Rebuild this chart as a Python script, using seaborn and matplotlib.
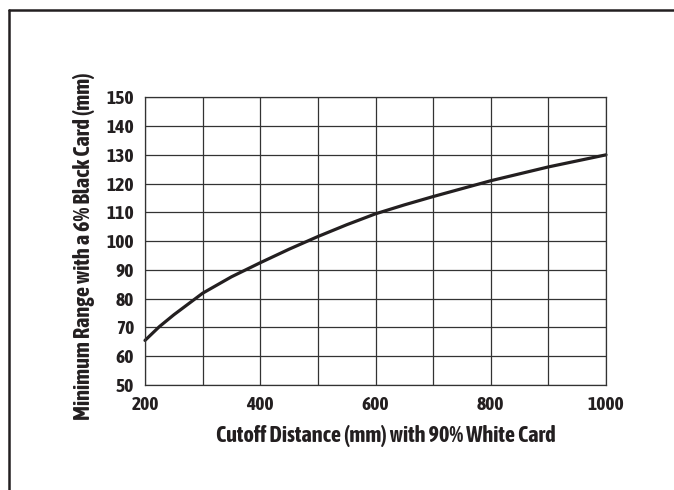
import matplotlib
matplotlib.use("Agg")
import matplotlib.pyplot as plt
import seaborn as sns
import pandas as pd
from matplotlib.lines import Line2D
from matplotlib import font_manager

cutoff_mm = [200, 225, 250, 300, 350, 400, 450, 500, 550, 600, 650, 700, 800, 900, 1000]
min_range_mm = [65.5, 70.3, 74.4, 81.9, 87.6, 92.5, 97.2, 101.6, 105.7, 109.5, 112.6, 115.5, 121.0, 125.8, 130.0]
x_ticks = [200, 400, 600, 800, 1000]
y_ticks = [50, 60, 70, 80, 90, 100, 110, 120, 130, 140, 150]
x_label = "Cutoff Distance (mm) with 90% White Card"
y_label = "Minimum Range with a 6% Black Card (mm)"

sns.set_theme(style="white")
entries = font_manager.fontManager.ttflist
narrow_bold = sorted({f.name for f in entries
                      if ("Narrow" in f.name or "Condensed" in f.name)
                      and isinstance(f.weight, (int, float)) and f.weight >= 600})
narrow_any = sorted({f.name for f in entries if "Narrow" in f.name or "Condensed" in f.name})
if narrow_bold:
    fam = narrow_bold[0]
    narrow = True
elif narrow_any:
    fam = narrow_any[0]
    narrow = True
else:
    fam = "Liberation Sans"
    narrow = False
plt.rcParams["font.family"] = [fam, "DejaVu Sans"]

ink = "#231f20"
df = pd.DataFrame({"x": cutoff_mm, "y": min_range_mm})

fig = plt.figure(figsize=(6.74, 4.90), dpi=100)
ax = fig.add_axes([145 / 674, 105 / 490, 461 / 674, 287.7 / 490])

ax.set_xlim(200, 1000)
ax.set_ylim(50, 150)
ax.set_xticks(range(200, 1001, 100))
ax.set_xticklabels([str(v) if v in x_ticks else "" for v in range(200, 1001, 100)])
ax.set_yticks(y_ticks)
ax.set_yticklabels([str(v) for v in y_ticks])
ax.grid(True, color="#333333", linewidth=0.9)
ax.set_axisbelow(True)

sns.lineplot(data=df, x="x", y="y", ax=ax, color=ink, linewidth=2.3, clip_on=False)

for s in ax.spines.values():
    s.set_color("#333333")
    s.set_linewidth(0.9)

tfs = 14 if narrow else 11
lfs = 16 if narrow else 11
ax.tick_params(axis="both", length=0, labelsize=tfs, colors=ink)
ax.tick_params(axis="x", pad=8)
ax.tick_params(axis="y", pad=8)
for t in ax.get_xticklabels() + ax.get_yticklabels():
    t.set_fontweight("bold")

ax.set_xlabel(x_label, fontsize=lfs, fontweight="bold", color=ink)
ax.set_ylabel(y_label, fontsize=lfs, fontweight="bold", color=ink)
ax.xaxis.set_label_coords(0.523, -0.138)
ax.yaxis.set_label_coords(-0.109, 0.482)

# outer frame (left and top edges)
fig.add_artist(Line2D([9 / 674, 9 / 674], [0, 1 - 10 / 490], transform=fig.transFigure, color=ink, linewidth=1.8))
fig.add_artist(Line2D([9 / 674, 1], [1 - 10 / 490, 1 - 10 / 490], transform=fig.transFigure, color=ink, linewidth=1.8))

fig.savefig("out.png", dpi=100)
